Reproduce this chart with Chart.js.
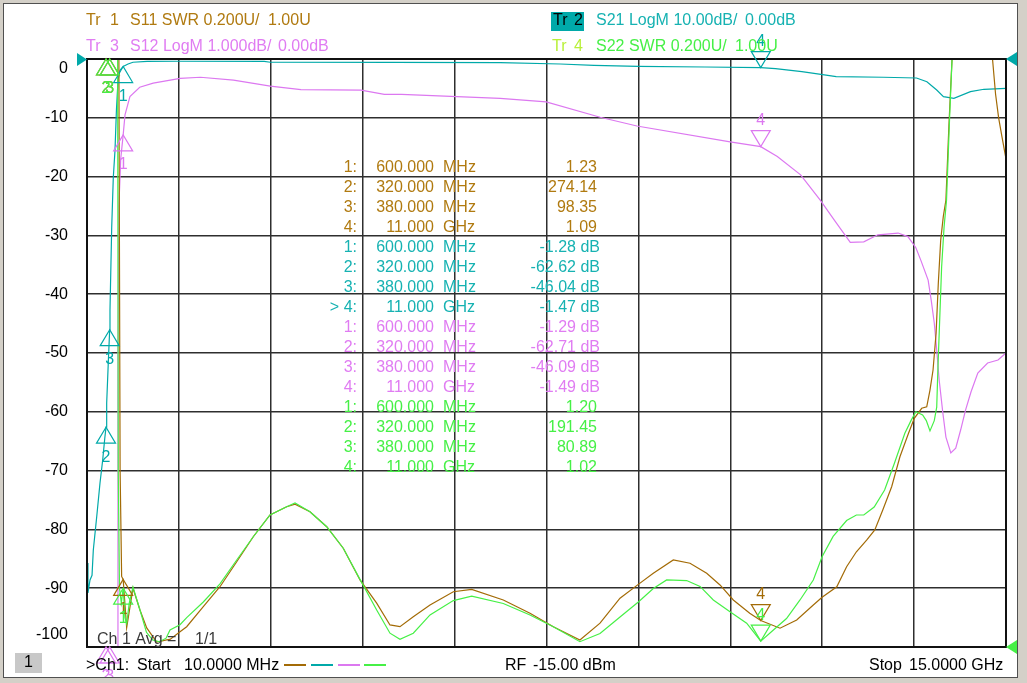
<!DOCTYPE html>
<html><head><meta charset="utf-8">
<script src="https://cdn.jsdelivr.net/npm/chart.js@4"></script>
<style>html,body{margin:0;padding:0;background:#d4d0c8;overflow:hidden}canvas{display:block}</style>
</head><body>
<canvas id="c" width="1027" height="683"></canvas>
<script>
// ---------- data (frequency in GHz) ----------
const xStartGHz = 0.01, xStopGHz = 15;
const yTickValues = [0,-10,-20,-30,-40,-50,-60,-70,-80,-90,-100];
const yTickLabels = ['0','-10','-20','-30','-40','-50','-60','-70','-80','-90','-100'];

// Tr1 S11 SWR
const s11Freq = [0.01,0.1,0.2,0.32,0.38,0.45,0.50,0.53,0.55,0.575,0.60,0.657,0.76,0.874,0.984,1.147,1.31,1.364,1.527,1.636,1.907,2.179,2.452,2.722,2.995,3.267,3.403,3.647,3.92,4.19,4.463,4.735,4.952,5.115,5.332,5.605,5.985,6.285,6.80,7.236,7.616,8.05,8.378,8.704,9.003,9.247,9.573,9.846,10.118,10.335,10.552,10.82,11.0,11.314,11.586,11.857,12.0,12.24,12.40,12.56,12.73,12.86,12.99,13.135,13.27,13.41,13.504,13.625,13.707,13.76,13.81,13.86,13.896,13.935,13.977,14.02,14.07,14.12,14.3,14.5,14.7,14.78,14.83,14.88,14.93,15.0];
const s11Swr = [620,480,360,274.14,98.35,30,8,3.1,1.6,1.24,1.23,1.065,1.20,1.126,1.065,1.017,1.024,1.026,1.052,1.069,1.137,1.205,1.29,1.375,1.449,1.477,1.486,1.46,1.409,1.336,1.228,1.149,1.075,1.069,1.103,1.143,1.188,1.196,1.16,1.115,1.069,1.024,1.081,1.166,1.213,1.251,1.296,1.285,1.251,1.211,1.16,1.115,1.09,1.064,1.092,1.143,1.169,1.205,1.273,1.324,1.364,1.398,1.466,1.545,1.647,1.727,1.778,1.812,1.817,1.874,1.942,2.068,2.238,2.384,2.464,2.52,2.78,3.05,4.2,4.8,3.6,3.0,2.88,2.80,2.74,2.66];

// Tr2 S21 LogM
const s21Freq = [0.01,0.026,0.059,0.092,0.113,0.168,0.222,0.266,0.30,0.32,0.331,0.357,0.38,0.385,0.413,0.439,0.467,0.49,0.516,0.548,0.60,0.68,0.76,0.99,1.5,2.9,3.0,5.0,6.75,7.73,8.28,9.0,10.09,11.0,11.24,11.67,12.01,12.23,13.0,13.54,13.71,13.87,13.98,14.15,14.42,14.64,15.0];
const s21Db = [-85.7,-90.8,-88.6,-87.8,-83.5,-77.9,-72.1,-68.2,-64.5,-62.62,-58.5,-51.7,-46.04,-42.7,-28.6,-20.1,-15.5,-8.7,-3.6,-1.9,-1.28,-0.85,-0.55,-0.4,-0.38,-0.42,-0.55,-0.58,-0.63,-0.85,-1.07,-1.24,-1.36,-1.47,-1.65,-2.16,-2.67,-3.0,-3.1,-3.23,-3.86,-5.27,-6.41,-6.68,-5.56,-5.15,-4.98];

// Tr3 S12 LogM
const s12Freq = [0.01,0.32,0.38,0.45,0.505,0.515,0.53,0.56,0.60,0.63,0.71,0.87,1.09,1.53,1.86,2.40,3.0,3.5,4.48,4.86,5.14,6.75,7.5,8.38,8.98,10.5,11.0,11.27,11.65,11.97,12.22,12.46,12.68,12.91,13.24,13.40,13.53,13.61,13.73,13.78,13.83,13.87,13.91,13.97,14.02,14.10,14.18,14.26,14.34,14.43,14.54,14.70,14.87,15.0];
const s12Db = [-80,-62.71,-46.09,-25,-10.5,-5,-2.5,-1.7,-1.29,-0.95,-0.64,-0.48,-0.41,-0.33,-0.31,-0.36,-0.46,-0.52,-0.53,-0.60,-0.60,-0.67,-0.73,-0.99,-1.14,-1.41,-1.49,-1.66,-1.97,-2.40,-2.77,-3.12,-3.11,-2.99,-2.96,-3.02,-3.21,-3.42,-3.76,-4.10,-4.49,-4.95,-5.46,-6.02,-6.43,-6.70,-6.62,-6.31,-5.97,-5.66,-5.34,-5.17,-5.12,-5.0];

// Tr4 S22 SWR
const s22Freq = [0.01,0.1,0.2,0.32,0.38,0.45,0.49,0.51,0.52,0.54,0.57,0.60,0.63,0.657,0.70,0.76,0.874,0.98,1.08,1.19,1.30,1.364,1.527,1.636,1.907,2.179,2.452,2.722,2.995,3.267,3.403,3.647,3.92,4.19,4.463,4.735,4.952,5.115,5.332,5.605,5.985,6.285,6.80,7.236,7.616,8.05,8.378,8.704,9.003,9.247,9.465,9.791,10.01,10.226,10.498,10.77,11.0,11.206,11.42,11.64,11.857,12.0,12.18,12.40,12.56,12.68,12.85,13.02,13.18,13.35,13.45,13.53,13.64,13.70,13.76,13.83,13.87,13.89,13.92,13.95,13.99,14.03,14.08,14.12,14.3,14.6,15.0];
const s22Swr = [400,300,250,191.45,80.89,20,6,3.1,1.6,1.2,1.15,1.20,1.10,1.08,1.15,1.204,1.126,1.05,1.024,1.018,1.03,1.058,1.076,1.10,1.153,1.215,1.296,1.375,1.449,1.477,1.49,1.46,1.409,1.336,1.23,1.126,1.047,1.026,1.047,1.109,1.158,1.173,1.148,1.109,1.069,1.018,1.046,1.102,1.153,1.199,1.228,1.226,1.206,1.16,1.12,1.081,1.02,1.058,1.097,1.16,1.228,1.307,1.376,1.43,1.449,1.449,1.476,1.534,1.625,1.727,1.77,1.80,1.789,1.77,1.735,1.77,1.816,1.952,2.122,2.293,2.429,2.52,2.8,3.05,5,6,5];

// markers
const markerFreq = [0.6, 0.32, 0.38, 11.0];
const s11Mk = [1.23, 274.14, 98.35, 1.09];
const s21Mk = [-1.28, -62.62, -46.04, -1.47];
const s12Mk = [-1.29, -62.71, -46.09, -1.49];
const s22Mk = [1.20, 191.45, 80.89, 1.02];

// ---------- styling ----------
const C_S11 = '#a36b06', C_S21 = '#00a9a9', C_S12 = '#dc78f0', C_S22 = '#46f046';
const T_S11 = '#b07a10', T_S21 = '#16b2b2', T_S12 = '#e07cf2', T_S22 = '#46f046';
const FONT = '16px "Liberation Sans", Arial, sans-serif';

const axisRange = { y: [-100, 0], ySwr: [1, 3], yS12: [-10, 0] };
function series(freqs, vals, axis) {
  const [lo, hi] = axisRange[axis];
  return freqs.map((f, i) => ({ x: f, y: Math.min(hi, Math.max(lo, vals[i])) }));
}

const traces = [
  { freq: s11Freq, vals: s11Swr, axis: 'ySwr', color: C_S11, text: T_S11, mk: s11Mk, unit: '', order: 1 },
  { freq: s21Freq, vals: s21Db, axis: 'y', color: C_S21, text: T_S21, mk: s21Mk, unit: ' dB', order: 3 },
  { freq: s12Freq, vals: s12Db, axis: 'yS12', color: C_S12, text: T_S12, mk: s12Mk, unit: ' dB', order: 2 },
  { freq: s22Freq, vals: s22Swr, axis: 'ySwr', color: C_S22, text: T_S22, mk: s22Mk, unit: '', order: 0 }
];

const xGrid = Array.from({ length: 11 }, (_, i) => xStartGHz + i * (xStopGHz - xStartGHz) / 10);

function txt(ctx, s, x, y, color, align) {
  ctx.fillStyle = color; ctx.textAlign = align || 'left'; ctx.fillText(s, x, y);
}
function fmtFreq(f) { return f < 1 ? [(f * 1000).toFixed(3), 'MHz'] : [f.toFixed(3), 'GHz']; }

const decor = {
  id: 'decor',
  beforeDraw(chart) {
    const ctx = chart.ctx;
    ctx.save();
    ctx.fillStyle = '#d4d0c8'; ctx.fillRect(0, 0, 1027, 683);
    ctx.fillStyle = '#ffffff'; ctx.fillRect(4, 4, 1013, 673);
    ctx.strokeStyle = '#505050'; ctx.lineWidth = 1; ctx.strokeRect(3.5, 3.5, 1014, 674);
    ctx.restore();
  },
  afterDatasetsDraw(chart) {
    const ctx = chart.ctx, a = chart.chartArea, xs = chart.scales.x;
    ctx.save();
    ctx.strokeStyle = '#111'; ctx.lineWidth = 2;
    ctx.strokeRect(a.left, a.top, a.right - a.left, a.bottom - a.top);
    // markers
    ctx.beginPath(); ctx.rect(4, 4, 1013, 673); ctx.clip();
    ctx.font = FONT; ctx.textBaseline = 'middle'; ctx.textAlign = 'center';
    traces.forEach(t => {
      const sc = chart.scales[t.axis], [lo, hi] = axisRange[t.axis];
      markerFreq.forEach((f, i) => {
        const x = xs.getPixelForValue(f);
        const y = sc.getPixelForValue(Math.min(hi, Math.max(lo, t.mk[i])));
        const up = i < 3, h = 16, w = 9.5;
        ctx.strokeStyle = t.color; ctx.lineWidth = 1.2; ctx.fillStyle = t.color;
        ctx.beginPath(); ctx.moveTo(x, y);
        ctx.lineTo(x - w, up ? y + h : y - h); ctx.lineTo(x + w, up ? y + h : y - h);
        ctx.closePath(); ctx.stroke();
        ctx.fillText(String(i + 1), x, up ? y + h + 14 : y - h - 10);
      });
    });
    ctx.restore();
  },
  afterDraw(chart) {
    const ctx = chart.ctx, ys = chart.scales.y;
    ctx.save();
    ctx.font = FONT; ctx.textBaseline = 'middle';
    // y tick labels
    yTickValues.forEach((v, i) => {
      let y = ys.getPixelForValue(v);
      if (i === 0) y += 10;
      if (i === yTickValues.length - 1) y -= 12;
      txt(ctx, yTickLabels[i], 68, y, '#000', 'right');
    });
    // headers
    txt(ctx, 'Tr', 86, 21, T_S11); txt(ctx, '1', 110, 21, T_S11);
    txt(ctx, 'S11 SWR 0.200U/', 130, 21, T_S11); txt(ctx, '1.00U', 268, 21, T_S11);
    txt(ctx, 'Tr', 86, 47, T_S12); txt(ctx, '3', 110, 47, T_S12);
    txt(ctx, 'S12 LogM 1.000dB/', 130, 47, T_S12); txt(ctx, '0.00dB', 278, 47, T_S12);
    ctx.fillStyle = C_S21; ctx.fillRect(551, 12, 33, 19);
    txt(ctx, 'Tr', 553, 21, '#000'); txt(ctx, '2', 574, 21, '#000');
    txt(ctx, 'S21 LogM 10.00dB/', 596, 21, T_S21); txt(ctx, '0.00dB', 745, 21, T_S21);
    txt(ctx, 'Tr', 552, 47, '#b8f038'); txt(ctx, '4', 574, 47, '#b8f038');
    txt(ctx, 'S22 SWR 0.200U/', 596, 47, T_S22); txt(ctx, '1.00U', 735, 47, T_S22);
    // marker table
    let row = 0;
    traces.forEach(t => {
      markerFreq.forEach((f, i) => {
        const y = 168 + 20 * row;
        const active = (t.axis === 'y' && i === 3);
        txt(ctx, (active ? '> ' : '') + (i + 1) + ':', 357, y, t.text, 'right');
        const [fv, fu] = fmtFreq(f);
        txt(ctx, fv, 434, y, t.text, 'right');
        txt(ctx, fu, 443, y, t.text, 'left');
        txt(ctx, t.mk[i].toFixed(2) + t.unit, t.unit ? 600 : 597, y, t.text, 'right');
        row++;
      });
    });
    // reference triangles
    ctx.fillStyle = C_S21;
    ctx.beginPath(); ctx.moveTo(77, 53); ctx.lineTo(77, 66); ctx.lineTo(87, 59.5); ctx.closePath(); ctx.fill();
    ctx.beginPath(); ctx.moveTo(1017, 52); ctx.lineTo(1017, 66); ctx.lineTo(1006, 59); ctx.closePath(); ctx.fill();
    ctx.fillStyle = C_S22;
    ctx.beginPath(); ctx.moveTo(1017, 640); ctx.lineTo(1017, 654); ctx.lineTo(1006, 647); ctx.closePath(); ctx.fill();
    // averaging text
    txt(ctx, 'Ch 1 Avg =', 97, 640, '#3a3a3a'); txt(ctx, '1/1', 195, 640, '#3a3a3a');
    // footer
    ctx.fillStyle = '#c8c8c8'; ctx.fillRect(15, 653, 27, 20);
    txt(ctx, '1', 28.5, 663, '#000', 'center');
    txt(ctx, '>Ch1:', 86, 666, '#000'); txt(ctx, 'Start', 137, 666, '#000'); txt(ctx, '10.0000 MHz', 184, 666, '#000');
    [[C_S11, 284], [C_S21, 311], [C_S12, 338], [C_S22, 364]].forEach(([c, x]) => {
      ctx.strokeStyle = c; ctx.lineWidth = 2; ctx.beginPath(); ctx.moveTo(x, 665); ctx.lineTo(x + 22, 665); ctx.stroke();
    });
    txt(ctx, 'RF', 505, 666, '#000'); txt(ctx, '-15.00 dBm', 533, 666, '#000');
    txt(ctx, 'Stop', 869, 666, '#000'); txt(ctx, '15.0000 GHz', 909, 666, '#000');
    ctx.restore();
  }
};

const gridOpts = { color: '#2e2e2e', lineWidth: 1.5, drawTicks: false };
new Chart(document.getElementById('c'), {
  type: 'line',
  data: {
    datasets: traces.map(t => ({
      data: series(t.freq, t.vals, t.axis), yAxisID: t.axis, order: t.order,
      borderColor: t.color, borderWidth: 1.2, pointRadius: 0, tension: 0, fill: false
    }))
  },
  options: {
    responsive: false, animation: false, devicePixelRatio: 1,
    layout: { padding: { left: 87, top: 59, right: 21, bottom: 36 } },
    plugins: { legend: { display: false }, tooltip: { enabled: false } },
    scales: {
      x: { type: 'linear', min: xStartGHz, max: xStopGHz, grid: gridOpts, border: { display: false },
           ticks: { display: false }, afterBuildTicks: s => { s.ticks = xGrid.map(v => ({ value: v })); },
           afterFit: s => { s.height = 0; } },
      y: { type: 'linear', min: -100, max: 0, grid: gridOpts, border: { display: false },
           ticks: { display: false, stepSize: 10 }, afterFit: s => { s.width = 0; } },
      ySwr: { type: 'linear', min: 1, max: 3, display: false },
      yS12: { type: 'linear', min: -10, max: 0, display: false }
    }
  },
  plugins: [decor]
});
</script>
</body></html>
